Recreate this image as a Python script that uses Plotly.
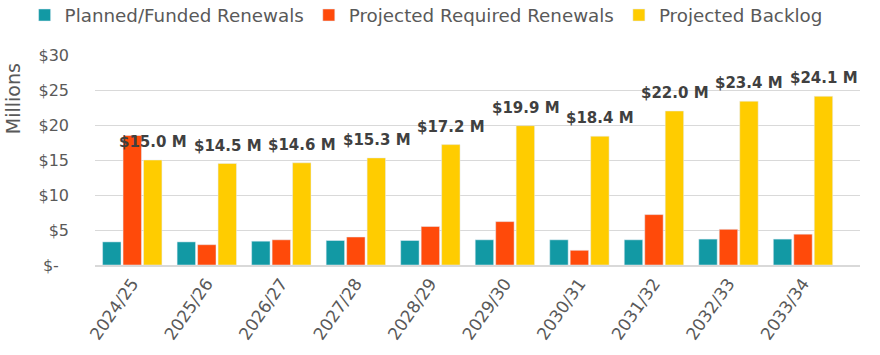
import plotly.graph_objects as go

years = ["2024/25", "2025/26", "2026/27", "2027/28", "2028/29",
         "2029/30", "2030/31", "2031/32", "2032/33", "2033/34"]
planned = [3.3, 3.3, 3.4, 3.5, 3.5, 3.6, 3.6, 3.6, 3.7, 3.7]
required = [18.5, 2.9, 3.6, 4.0, 5.5, 6.2, 2.1, 7.2, 5.1, 4.4]
backlog = [15.0, 14.5, 14.6, 15.3, 17.2, 19.9, 18.4, 22.0, 23.4, 24.1]
backlog_labels = ["$15.0 M", "$14.5 M", "$14.6 M", "$15.3 M", "$17.2 M",
                  "$19.9 M", "$18.4 M", "$22.0 M", "$23.4 M", "$24.1 M"]
tick_vals = [0, 5, 10, 15, 20, 25, 30]
tick_text = ["$-\u00a0\u00a0", "$5", "$10", "$15", "$20", "$25", "$30"]

FONT = "DejaVu Sans"
GRAY = "#595959"

fig = go.Figure()
fig.add_trace(go.Bar(name="Planned/Funded Renewals", x=years, y=planned,
                     marker_color="#1299A4"))
fig.add_trace(go.Bar(name="Projected Required Renewals", x=years, y=required,
                     marker_color="#FF4A0A"))
fig.add_trace(go.Bar(name="Projected Backlog", x=years, y=backlog,
                     marker_color="#FFCC00"))

for yr, v, lab in zip(years, backlog, backlog_labels):
    fig.add_annotation(x=yr, y=v, text="<b>" + lab + "</b>", xref="x", yref="y",
                       showarrow=False, xshift=21, yshift=18,
                       xanchor="center", yanchor="middle",
                       font=dict(family="DejaVu Sans", size=15, color="#404040"))

fig.add_annotation(text="Millions", xref="paper", yref="paper",
                   x=-0.107, y=0.79, xanchor="center", yanchor="middle",
                   textangle=-90, showarrow=False,
                   font=dict(family=FONT, size=19, color=GRAY))

fig.update_layout(
    width=880, height=355,
    margin=dict(l=95, r=20, t=55, b=90, autoexpand=False),
    plot_bgcolor="white", paper_bgcolor="white",
    barmode="group", bargap=0.176, bargroupgap=0.1,
    font=dict(family=FONT, color=GRAY),
    legend=dict(orientation="h", x=-0.092, y=1.19, xanchor="left", yanchor="middle",
                font=dict(family=FONT, size=18.3, color=GRAY),
                itemwidth=30, tracegroupgap=0),
    showlegend=True,
)
fig.update_xaxes(tickangle=-55, tickfont=dict(family=FONT, size=17, color=GRAY),
                 showline=True, linecolor="#D9D9D9", linewidth=1.5,
                 ticks="", showgrid=False, automargin=False)
fig.update_yaxes(range=[0, 30], tickvals=tick_vals, ticktext=tick_text,
                 tickfont=dict(family=FONT, size=16, color=GRAY),
                 showgrid=True, gridcolor="#D9D9D9", gridwidth=1,
                 zeroline=False, ticklabelstandoff=25, automargin=False)

fig.write_html("out.html", config={"displayModeBar": False},
               post_script="document.body.style.margin='0';document.body.style.overflow='hidden';")
